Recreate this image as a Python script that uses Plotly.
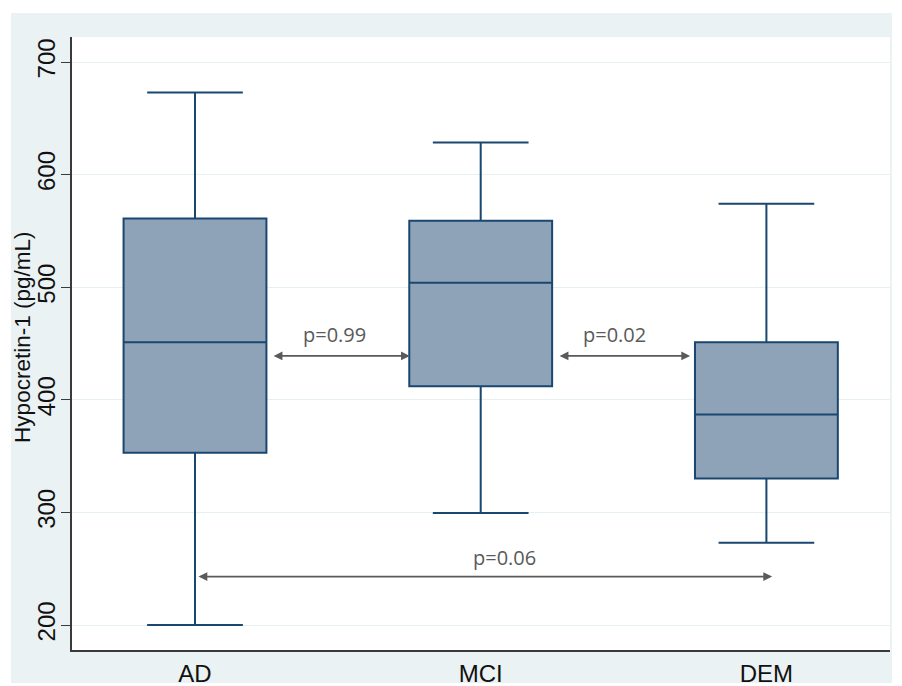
import plotly.graph_objects as go

# ---- data ----
groups = ["AD", "MCI", "DEM"]
upper_whisker = [673, 628.5, 574]
q3_vals = [561, 559, 451]
medians = [451, 504, 387]
q1_vals = [353, 412, 330]
lower_whisker = [200, 299.5, 273]

y_ticks = [200, 300, 400, 500, 600, 700]

p_labels = ["p=0.99", "p=0.02", "p=0.06"]

# ---- style ----
NAVY = "#1a476f"
FILL = "#8ea3b8"
BG = "#eaf2f3"
GRID = "#e6eff1"
AXIS = "#3a3a3a"
GRAY = "#5a5a5a"

pos = list(range(len(groups)))

fig = go.Figure()
fig.add_trace(go.Box(
    x=pos,
    q1=q1_vals, median=medians, q3=q3_vals,
    lowerfence=lower_whisker, upperfence=upper_whisker,
    width=0.5, whiskerwidth=0.67,
    fillcolor=FILL,
    line=dict(color=NAVY, width=2),
    boxpoints=False,
    showlegend=False,
    hoverinfo="skip",
))

annotations = []
# arrows: (x_start, x_end, y, label index, label x, label y)
arrow_specs = [
    (0.27, 0.752, 439, 0, 0.49, 458),
    (1.271, 1.733, 439, 1, 1.469, 458),
    (0.007, 2.02, 243, 2, 1.085, 260),
]
for xs, xe, yv, li, lx, ly in arrow_specs:
    annotations.append(dict(
        x=xe, y=yv, ax=xs, ay=yv, xref="x", yref="y", axref="x", ayref="y",
        text="", showarrow=True, arrowhead=2, startarrowhead=2,
        arrowside="end+start", arrowsize=1.1, startarrowsize=1.1,
        arrowwidth=1.6, arrowcolor=GRAY, standoff=0, startstandoff=0,
    ))
    annotations.append(dict(
        x=lx, y=ly, xref="x", yref="y", text=p_labels[li], showarrow=False,
        font=dict(family="Open Sans", size=20, color=GRAY),
        xanchor="center", yanchor="middle",
    ))

annotations.append(dict(
    x=-0.0605, y=0.51, xref="paper", yref="paper",
    text="Hypocretin-1 (pg/mL)", showarrow=False, textangle=-90,
    font=dict(family="Liberation Sans, Arial", size=22.5, color="#111111"),
    xanchor="center", yanchor="middle",
))

shapes = [
    dict(type="rect", xref="paper", yref="paper", x0=-0.0746, x1=1.0024,
         y0=-0.0538, y1=1.0392, fillcolor=BG, line=dict(width=0), layer="below"),
    dict(type="rect", xref="paper", yref="paper", x0=0, x1=1,
         y0=0, y1=1, fillcolor="white", line=dict(width=0), layer="below"),
]

fig.update_layout(
    width=902, height=686,
    margin=dict(l=64, r=20, t=29, b=44, autoexpand=False),
    paper_bgcolor="white",
    plot_bgcolor="white",
    shapes=shapes,
    annotations=annotations,
    font=dict(family="Liberation Sans, Arial", size=24, color="#111111"),
    xaxis=dict(
        range=[-0.4305, 2.4326],
        tickvals=pos, ticktext=groups,
        showgrid=False, zeroline=False,
        showline=True, linecolor=AXIS, linewidth=1.5,
        ticks="", tickfont=dict(size=24),
        ticklabelstandoff=1, automargin=False,
    ),
    yaxis=dict(
        range=[177.8, 722.2],
        tickvals=y_ticks,
        tickangle=-90,
        showgrid=True, gridcolor=GRID, gridwidth=1.2,
        zeroline=False,
        showline=True, linecolor=AXIS, linewidth=1.5,
        ticks="outside", ticklen=9, tickcolor=AXIS, tickwidth=1.2,
        tickfont=dict(size=24),
        ticklabelstandoff=-3, automargin=False,
    ),
)

fig.write_html("out.html")
